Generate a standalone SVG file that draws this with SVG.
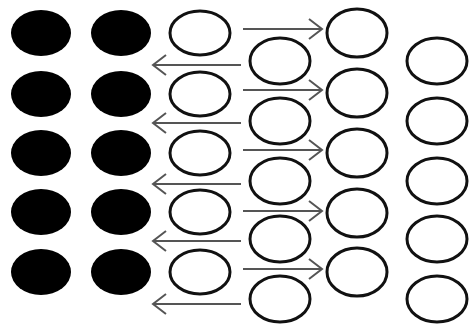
<svg xmlns="http://www.w3.org/2000/svg" width="472" height="325" viewBox="0 0 472 325">
<style>
.b{fill:#000}
.w{fill:#fff;stroke:#111;stroke-width:3}
.a{stroke:#555;stroke-width:2;fill:none}
</style>
<defs>
<marker id="h" markerWidth="16" markerHeight="22" refX="14" refY="11" orient="auto" markerUnits="userSpaceOnUse">
<path d="M1,1 L14,11 L1,21" fill="none" stroke="#555" stroke-width="2"/>
</marker>
</defs>
<rect width="472" height="325" fill="#fff"/>
<g id="col1">
<ellipse id="b1a" class="b" cx="41" cy="33" rx="30" ry="23"/>
<ellipse id="b1b" class="b" cx="41" cy="94" rx="30" ry="23"/>
<ellipse id="b1c" class="b" cx="41" cy="153" rx="30" ry="23"/>
<ellipse id="b1d" class="b" cx="41" cy="212" rx="30" ry="23"/>
<ellipse id="b1e" class="b" cx="41" cy="272" rx="30" ry="23"/>
</g>
<g id="col2">
<ellipse id="b2a" class="b" cx="121" cy="33" rx="30" ry="23"/>
<ellipse id="b2b" class="b" cx="121" cy="94" rx="30" ry="23"/>
<ellipse id="b2c" class="b" cx="121" cy="153" rx="30" ry="23"/>
<ellipse id="b2d" class="b" cx="121" cy="212" rx="30" ry="23"/>
<ellipse id="b2e" class="b" cx="121" cy="272" rx="30" ry="23"/>
</g>
<g id="col3">
<ellipse id="w3a" class="w" cx="200" cy="33" rx="30" ry="22"/>
<ellipse id="w3b" class="w" cx="200" cy="94" rx="30" ry="22"/>
<ellipse id="w3c" class="w" cx="200" cy="153" rx="30" ry="22"/>
<ellipse id="w3d" class="w" cx="200" cy="212" rx="30" ry="22"/>
<ellipse id="w3e" class="w" cx="200" cy="272" rx="30" ry="22"/>
</g>
<g id="col4">
<ellipse id="w4a" class="w" cx="280" cy="61" rx="30" ry="23"/>
<ellipse id="w4b" class="w" cx="280" cy="121" rx="30" ry="23"/>
<ellipse id="w4c" class="w" cx="280" cy="181" rx="30" ry="23"/>
<ellipse id="w4d" class="w" cx="280" cy="239" rx="30" ry="23"/>
<ellipse id="w4e" class="w" cx="280" cy="299" rx="30" ry="23"/>
</g>
<g id="col5">
<ellipse id="w5a" class="w" cx="357" cy="33" rx="30" ry="24"/>
<ellipse id="w5b" class="w" cx="357" cy="93" rx="30" ry="24"/>
<ellipse id="w5c" class="w" cx="357" cy="153" rx="30" ry="24"/>
<ellipse id="w5d" class="w" cx="357" cy="213" rx="30" ry="24"/>
<ellipse id="w5e" class="w" cx="357" cy="272" rx="30" ry="24"/>
</g>
<g id="col6">
<ellipse id="w6a" class="w" cx="437" cy="61" rx="30" ry="23"/>
<ellipse id="w6b" class="w" cx="437" cy="121" rx="30" ry="23"/>
<ellipse id="w6c" class="w" cx="437" cy="181" rx="30" ry="23"/>
<ellipse id="w6d" class="w" cx="437" cy="239" rx="30" ry="23"/>
<ellipse id="w6e" class="w" cx="437" cy="299" rx="30" ry="23"/>
</g>
<g id="connectors">
<line class="a" x1="243" y1="29" x2="322" y2="29" marker-end="url(#h)"/>
<line class="a" x1="243" y1="90" x2="322" y2="90" marker-end="url(#h)"/>
<line class="a" x1="243" y1="150" x2="322" y2="150" marker-end="url(#h)"/>
<line class="a" x1="243" y1="211" x2="322" y2="211" marker-end="url(#h)"/>
<line class="a" x1="243" y1="269" x2="322" y2="269" marker-end="url(#h)"/>
<line class="a" x1="241" y1="65" x2="153" y2="65" marker-end="url(#h)"/>
<line class="a" x1="241" y1="123" x2="153" y2="123" marker-end="url(#h)"/>
<line class="a" x1="241" y1="184" x2="153" y2="184" marker-end="url(#h)"/>
<line class="a" x1="241" y1="241" x2="153" y2="241" marker-end="url(#h)"/>
<line class="a" x1="241" y1="304" x2="153" y2="304" marker-end="url(#h)"/>
</g>
</svg>
